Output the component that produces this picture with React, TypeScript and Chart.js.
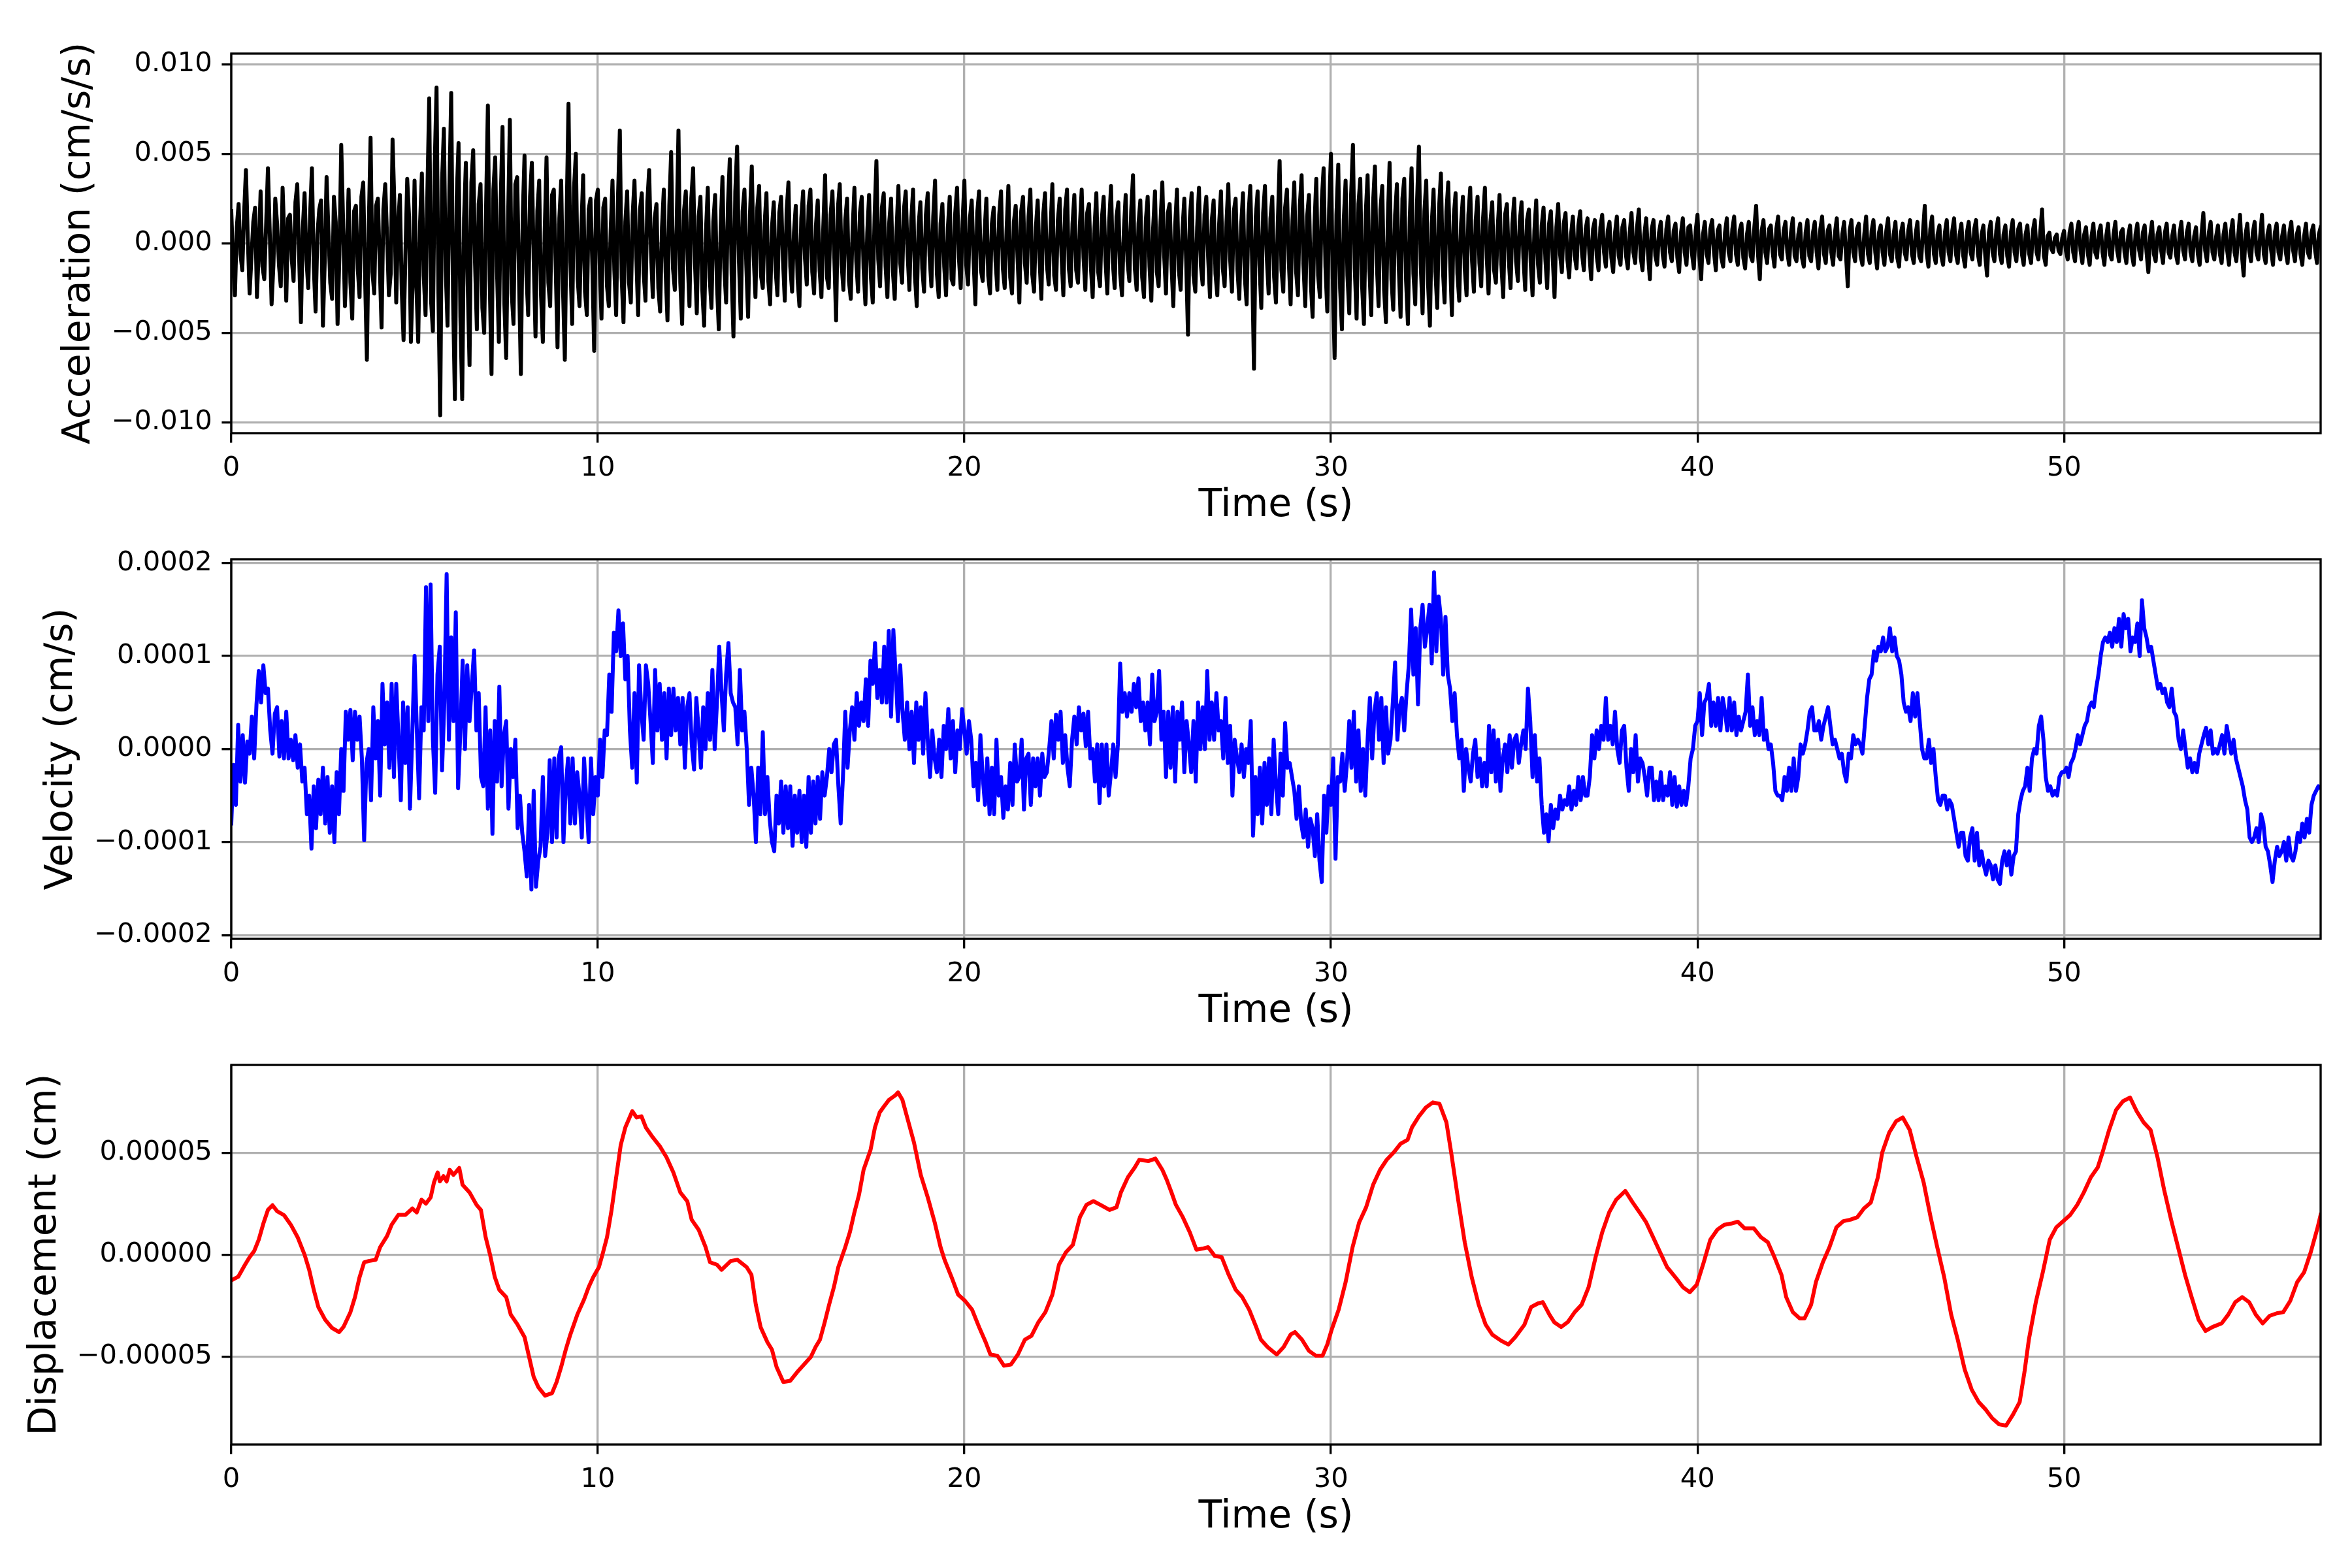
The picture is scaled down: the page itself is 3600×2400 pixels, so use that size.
import React, { useEffect, useRef } from "react";
import { Chart, registerables } from "chart.js";

Chart.register(...registerables);

// ---------------- data ----------------
// Acceleration, sampled every ACC_DT seconds, values in 1e-3 cm/s/s (one row per second)
const ACC_DT = 0.05;
const ACC_UNIT = 1e-3;
const ACC_E3 = [
  1.8,-1.1,-2.9,0.9,2.2,-0.6,-1.5,1.7,4.1,0.3,-2.8,-0.8,1.2,2.0,-3.0,-0.4,2.9,-1.3,-2.0,1.0,
  4.2,0.6,-3.4,-1.2,2.5,1.1,-1.2,-2.4,3.1,0.2,-3.2,1.4,1.6,-0.9,-2.1,2.3,3.3,-0.7,-4.4,0.8,
  2.8,-0.9,-2.5,1.6,4.2,-1.3,-3.8,0.5,1.9,2.4,-4.6,-1.0,3.7,0.7,-2.2,-3.1,2.6,1.2,-4.5,-0.6,
  5.5,1.3,-3.5,-0.8,3.0,-2.2,-4.2,1.8,2.1,-1.4,-3.0,2.6,3.4,-1.9,-6.5,0.9,5.9,-1.6,-2.8,2.1,
  2.5,-1.2,-4.7,1.9,3.3,0.4,-2.9,-1.7,5.8,2.2,-3.3,1.0,2.7,-2.6,-5.4,-0.7,3.6,1.5,-5.5,-2.0,
  3.5,-2.4,-5.5,1.1,3.9,-1.8,-4.0,2.9,8.1,-3.2,-4.9,4.4,8.7,-2.7,-9.6,3.5,6.4,-1.5,-4.6,3.1,
  8.4,-3.0,-8.7,2.6,5.6,-4.1,-8.7,1.4,4.5,-2.3,-6.8,3.4,5.2,-1.1,-4.8,2.2,3.3,-3.6,-5.0,1.9,
  7.7,-2.1,-7.3,3.0,4.8,-1.6,-5.5,2.4,6.5,-3.4,-6.4,1.2,6.9,-2.8,-4.5,3.3,3.7,-2.0,-7.3,1.5,
  4.9,-1.7,-4.0,2.6,4.5,-0.9,-5.2,1.8,3.5,-2.9,-5.5,0.6,4.8,-2.2,-3.5,2.7,3.0,-1.3,-5.8,1.4,
  3.5,-2.6,-6.5,1.7,7.8,-1.0,-4.5,3.1,5.0,-2.0,-3.5,0.8,3.8,-2.7,-4.0,1.9,2.5,-1.2,-6.0,2.4,
  3.0,-1.1,-4.2,2.0,2.5,-2.4,-3.5,0.7,3.5,-1.5,-4.0,2.6,6.3,-1.9,-4.4,1.2,2.9,-2.2,-3.3,1.6,
  3.5,-0.8,-4.0,1.9,2.8,-1.7,-3.2,2.3,4.1,-0.5,-3.0,1.4,2.2,-2.5,-3.8,0.9,3.0,-1.6,-4.3,2.1,
  5.1,-1.4,-2.6,1.0,6.3,-2.2,-4.5,1.8,2.9,-0.9,-3.5,2.5,4.2,-1.1,-3.9,1.5,2.6,-2.6,-4.6,0.7,
  3.1,-1.9,-3.6,1.2,2.7,-2.3,-4.8,0.8,3.7,-1.4,-3.3,2.2,4.7,-1.7,-5.2,2.9,5.4,-1.0,-4.2,1.8,
  3.0,-1.2,-4.1,1.6,4.3,-0.7,-3.0,2.0,3.2,-1.8,-2.5,1.1,2.8,-2.1,-3.4,0.9,2.3,-1.5,-2.9,1.7,
  2.6,-0.9,-3.2,1.8,3.4,-1.3,-2.7,0.6,2.1,-2.0,-3.5,1.4,2.9,-0.8,-2.3,2.1,3.0,-1.6,-2.8,1.0,
  2.4,-1.5,-3.0,0.9,3.8,-1.9,-2.5,1.6,2.9,-0.7,-4.3,2.0,3.3,-1.2,-2.6,1.3,2.5,-2.1,-3.1,0.8,
  3.1,-1.0,-2.7,1.7,2.6,-1.4,-3.4,0.6,2.7,-1.9,-3.3,1.5,4.6,-0.9,-2.4,2.0,2.8,-1.3,-3.0,1.2,
  2.5,-1.6,-3.1,0.8,3.2,-1.1,-2.2,1.9,2.9,-0.6,-2.6,1.3,3.0,-1.8,-3.5,1.0,2.3,-1.4,-2.7,1.6,
  2.8,-0.7,-2.4,1.5,3.5,-1.7,-3.0,1.1,2.2,-1.3,-2.9,0.9,2.6,-2.0,-2.3,1.7,3.1,-0.8,-2.5,1.2,
  3.5,-1.2,-2.3,1.4,2.4,-0.9,-3.4,1.7,2.9,-1.5,-2.1,0.6,2.5,-1.8,-2.8,1.1,2.0,-1.0,-2.6,1.6,
  2.9,-1.4,-2.5,0.7,3.2,-1.9,-2.8,1.2,2.1,-0.8,-3.3,1.8,2.6,-1.1,-2.2,1.5,3.0,-1.7,-2.7,0.9,
  2.4,-0.9,-3.1,1.6,2.8,-1.2,-2.3,0.8,3.3,-1.8,-2.6,1.3,2.5,-0.7,-2.9,1.9,3.0,-1.4,-2.4,1.1,
  2.7,-1.5,-2.2,1.0,3.0,-0.8,-2.6,1.7,2.2,-1.3,-3.0,0.9,2.8,-1.6,-2.4,1.4,2.6,-1.0,-2.8,1.2,
  3.2,-1.1,-2.5,1.5,2.3,-1.7,-2.9,0.7,2.7,-1.0,-2.1,1.8,3.8,-1.4,-2.6,1.1,2.4,-1.9,-3.0,1.3,
  2.6,-1.3,-3.2,0.9,2.9,-1.6,-2.4,1.2,3.4,-0.7,-2.8,1.7,2.2,-1.2,-3.5,1.0,3.0,-1.5,-2.6,0.8,
  2.5,-1.0,-5.1,1.4,2.8,-1.8,-2.7,0.9,3.1,-1.2,-2.3,1.6,2.6,-0.8,-3.0,1.3,2.4,-1.7,-2.9,1.1,
  2.9,-1.4,-2.4,1.2,3.3,-0.9,-2.7,1.8,2.5,-1.5,-3.1,1.0,2.8,-1.9,-3.4,1.6,3.2,-1.1,-7.0,1.5,
  2.9,-1.2,-3.6,1.7,3.2,-0.8,-2.8,1.4,2.6,-1.9,-3.3,1.1,4.6,-1.5,-2.7,2.0,3.0,-1.0,-3.4,1.3,
  3.4,-1.6,-2.9,2.1,3.8,-1.2,-3.5,1.5,2.7,-2.2,-4.1,1.0,3.6,-1.8,-3.0,2.4,4.2,-1.3,-3.8,1.9,
  5.0,-2.0,-6.4,1.6,4.4,-2.5,-4.8,1.3,3.5,-1.8,-3.9,2.7,5.5,-1.4,-4.2,2.2,3.6,-2.4,-4.5,1.7,
  3.8,-1.5,-4.0,2.3,4.3,-1.1,-3.5,1.9,3.2,-2.6,-4.4,1.2,4.5,-2.0,-3.7,1.6,3.3,-1.3,-4.1,2.5,
  3.6,-2.1,-4.5,1.4,4.2,-1.7,-3.4,2.4,5.4,-1.2,-3.9,1.8,3.5,-2.3,-4.6,1.1,3.0,-1.6,-3.6,2.0,
  3.9,-1.3,-3.3,1.8,3.4,-0.9,-4.0,1.5,2.8,-1.7,-3.2,1.1,2.6,-1.4,-2.9,1.6,3.1,-1.0,-2.7,1.3,
  2.6,-1.1,-2.4,1.4,3.1,-0.8,-2.8,1.2,2.3,-1.5,-2.2,0.9,2.7,-1.2,-3.0,1.6,2.2,-0.9,-2.5,1.1,
  2.5,-1.0,-2.1,1.2,2.3,-0.8,-2.6,1.3,1.9,-1.1,-2.9,0.7,2.4,-1.2,-2.2,1.0,2.0,-0.9,-2.5,1.1,
  1.8,-0.8,-3.0,0.9,2.2,-0.6,-1.6,1.1,1.7,-0.9,-1.9,0.5,1.5,-0.7,-1.4,1.0,1.8,-0.6,-1.5,0.8,
  1.4,-0.6,-2.0,0.8,1.3,-0.7,-1.5,0.9,1.6,-0.5,-1.3,0.7,1.2,-0.8,-1.6,0.6,1.5,-0.7,-1.2,0.9,
  1.3,-0.7,-1.4,0.6,1.7,-0.5,-1.1,0.9,1.9,-0.8,-1.5,0.5,1.4,-0.6,-2.0,0.8,1.3,-0.7,-1.2,0.6,
  1.2,-0.6,-1.3,0.8,1.5,-0.5,-1.0,0.7,1.1,-0.8,-1.6,0.6,1.4,-0.5,-1.2,0.9,1.0,-0.6,-1.4,0.7,
  1.6,-0.7,-2.0,0.5,1.2,-0.6,-1.1,0.8,1.3,-0.5,-1.5,0.7,1.0,-0.8,-1.3,0.6,1.4,-0.5,-1.0,0.8,
  1.5,-0.6,-1.2,0.7,1.1,-0.8,-1.4,0.5,1.2,-0.7,-1.0,0.9,2.1,-0.6,-2.0,0.7,1.3,-0.5,-1.1,0.8,
  1.0,-0.5,-1.3,0.8,1.5,-0.6,-0.9,0.7,1.2,-0.5,-1.2,0.6,1.4,-0.7,-1.0,0.5,1.1,-0.8,-1.3,0.6,
  1.3,-0.7,-1.0,0.6,1.2,-0.5,-1.4,0.8,1.5,-0.6,-1.1,0.7,1.0,-0.5,-1.2,0.6,1.4,-0.7,-0.9,0.5,
  1.2,-0.6,-2.4,0.7,1.3,-0.5,-1.0,0.8,1.1,-0.7,-1.2,0.5,1.5,-0.6,-1.1,0.7,1.3,-0.5,-1.4,0.6,
  1.0,-0.5,-1.2,0.7,1.4,-0.6,-1.0,0.5,1.2,-0.8,-1.3,0.6,1.1,-0.5,-0.9,0.7,1.3,-0.6,-1.1,0.5,
  1.2,-0.7,-1.0,0.6,2.1,-0.5,-1.3,0.8,1.5,-0.6,-1.1,0.5,1.0,-0.7,-1.2,0.6,1.3,-0.5,-1.0,0.7,
  1.4,-0.6,-1.1,0.5,1.1,-0.7,-1.3,0.6,1.2,-0.5,-0.9,0.8,1.3,-0.6,-1.2,0.5,1.0,-0.7,-1.8,0.6,
  1.2,-0.5,-1.0,0.7,1.4,-0.6,-1.1,0.5,1.0,-0.7,-1.3,0.6,1.3,-0.5,-1.0,0.8,1.1,-0.6,-1.2,0.5,
  1.0,-0.6,-1.1,0.7,1.3,-0.5,-0.9,0.6,1.9,-0.7,-1.2,0.4,0.6,-0.3,-0.5,0.3,0.5,-0.4,-0.6,0.3,
  0.7,-0.4,-0.9,0.6,1.1,-0.5,-1.0,0.6,1.2,-0.4,-1.1,0.5,0.9,-0.6,-1.2,0.4,1.1,-0.5,-0.8,0.6,
  1.0,-0.5,-1.2,0.4,1.1,-0.6,-0.9,0.5,1.2,-0.4,-1.0,0.6,0.8,-0.5,-1.1,0.4,1.0,-0.6,-1.2,0.5,
  1.1,-0.4,-0.9,0.6,1.0,-0.5,-1.6,0.4,1.2,-0.6,-1.0,0.5,0.9,-0.4,-1.1,0.6,1.1,-0.5,-0.8,0.4,
  1.0,-0.6,-1.1,0.5,1.2,-0.4,-0.9,0.6,1.1,-0.5,-1.0,0.4,0.9,-0.6,-1.2,0.5,1.7,-0.4,-1.0,0.6,
  1.2,-0.5,-0.9,0.4,1.0,-0.6,-1.1,0.5,1.1,-0.4,-1.2,0.6,1.3,-0.5,-1.0,0.4,1.6,-0.6,-1.8,0.5,
  1.1,-0.4,-1.0,0.6,1.2,-0.5,-0.9,0.4,1.6,-0.6,-1.1,0.5,1.0,-0.4,-1.2,0.6,1.1,-0.5,-0.9,0.4,
  1.0,-0.5,-1.1,0.6,1.2,-0.4,-1.0,0.5,0.9,-0.6,-1.2,0.4,1.1,-0.5,-0.8,0.6,1.0,-0.4,-1.1,0.5,
  0.9,
];

// Velocity, sampled every VEL_DT seconds, values in 1e-5 cm/s
const VEL_DT = 0.0625;
const VEL_UNIT = 1e-5;
const VEL_E5 = [
  -8.0,-1.7,-6.0,2.6, -3.5,1.5,-3.6,0.8, -0.5,3.5,-1.0,4.8, 8.4,5.0,9.0,6.0,
  6.5,2.0,-0.5,3.8, 4.5,-0.8,3.0,-1.0, 4.0,-1.0,1.0,-1.2, 1.5,-2.0,0.5,-3.5,
  -2.0,-7.0,-5.0,-10.7, -4.0,-8.5,-3.3,-7.0, -2.0,-8.0,-3.0,-9.0, -4.0,-10.0,-2.5,-7.0,
  0,-4.5,4.0,1.0, 4.2,-1.2,4.0,1.0, 3.5,-1.0,-9.8,-1.5, 0,-5.5,4.5,-1.0,
  3.0,-5.0,7.0,0.5, 5.0,-2.0,7.0,-3.0, 7.0,1.0,-5.5,5.0, -1.5,4.5,-6.4,1.5,
  10.0,2.0,-5.3,4.5, 2.0,17.4,3.0,17.7, 1.0,-4.7,8.0,11.0, -2.3,5.0,18.8,1.0,
  12.0,3.0,14.7,-4.2, 2.0,9.5,0,9.0, 3.0,7.0,10.6,2.0, 6.0,-3.0,-4.0,4.5,
  -6.4,2.0,-9.1,3.0, -3.5,6.7,-4.0,1.5, 3.0,-6.4,0,-3.0, 1.0,-8.5,-5.0,-9.0,
  -11.0,-13.7,-6.0,-15.1, -4.5,-14.8,-12.0,-10.5, -3.0,-11.5,-9.0,-1.2, -10.0,-1.0,-9.5,-0.8,
  0.2,-10.0,-4.0,-1.0, -8.0,-1.0,-8.0,-2.5, -5.0,-9.5,-1.0,-5.5, -10.0,-1.0,-7.0,-3.0,
  -5.0,1.0,-3.0,2.0, 1.5,8.0,4.0,12.5, 10.5,14.9,10.0,13.5, 7.5,10.0,2.0,-2.0,
  6.0,-3.6,9.0,4.0, 1.0,9.0,7.0,3.0, -1.5,8.5,2.0,7.0, 1.0,6.0,-1.0,6.5,
  1.5,6.5,2.0,5.5, 0.5,5.5,-2.0,4.5, 6.0,0.5,-2.2,5.5, 2.0,-2.0,4.5,0,
  6.0,1.0,8.5,0, 5.0,11.0,6.0,2.0, 8.0,11.4,6.0,5.0, 4.5,0.5,8.5,2.0,
  4.0,0,-6.0,-2.0, -5.0,-10.0,-2.0,-7.0, 1.8,-7.0,-3.0,-7.5, -10.0,-11.0,-5.0,-8.0,
  -3.5,-9.0,-4.0,-8.5, -4.0,-10.4,-5.0,-9.0, -4.5,-10.0,-5.0,-10.5, -3.0,-9.0,-3.5,-8.0,
  -3.0,-7.5,-2.5,-5.0, -3.0,0,-2.5,0.5, 1.0,-4.0,-8.0,-3.0, 4.0,-2.0,2.0,4.5,
  1.0,6.0,2.5,5.0, 3.0,7.5,2.5,9.5, 7.0,11.4,5.5,8.5, 5.0,11.0,5.0,12.7,
  3.5,12.8,8.0,3.0, 9.0,4.0,1.0,5.0, 0,4.0,-1.5,5.0, 1.0,4.5,-0.5,6.0,
  1.0,-3.0,2.0,-1.0,
  -2.5,1.0,-3.0,2.5, 0,4.3,-1.0,3.0, -2.5,2.0,0,4.3, 2.0,-0.5,3.0,1.0,
  -4.0,-1.5,-5.5,1.5, -3.0,-6.0,-1.0,-7.0, -2.0,-7.0,1.0,-5.0, -3.0,-7.4,-4.0,-6.5,
  -1.5,-6.0,0.5,-3.5, -3.0,1.0,-6.5,-1.0, -0.5,-6.0,-1.0,-4.0, -1.0,-5.0,-0.5,-3.0,
  -2.5,0,3.0,-1.0, 3.7,1.0,4.0,-1.5, 1.5,-2.0,-4.0,1.0, 3.5,0.5,4.5,2.0,
  3.8,0.3,4.0,-1.0, 0,-3.5,0.5,-5.8, 0.5,-4.0,0.5,-5.0, -2.5,0.5,-3.0,0.5,
  9.2,4.0,6.0,3.5, 6.0,4.0,7.0,4.5, 7.6,3.0,5.0,2.0, 5.0,0.5,8.0,3.0,
  4.0,8.4,1.0,4.0, -3.0,4.0,-2.0,4.5, -3.5,4.0,1.0,5.0, -2.5,3.0,0.5,-2.5,
  3.0,-3.5,5.0,0, 4.5,0,8.4,1.0, 5.0,1.0,6.0,2.0, 3.0,-1.0,5.5,-1.5,
  2.5,-5.0,1.0,-1.0, -2.5,0.5,-3.0,0, -1.5,3.0,-9.3,-3.0, -7.0,-2.0,-8.0,-1.5,
  -6.0,-1.0,-7.0,1.0, -4.0,-7.0,-0.5,-5.0, 2.8,-2.0,-1.5,-3.0, -4.5,-7.5,-4.0,-8.0,
  -9.5,-6.5,-10.5,-7.5, -8.5,-11.5,-7.0,-12.0, -14.3,-5.0,-9.0,-4.0, -6.0,-1.0,-11.8,-3.0,
  -3.5,-0.5,-4.5,-1.5, 3.0,-2.0,4.0,-3.5, 2.0,-4.5,0,-5.0, 1.0,5.5,-1.0,4.0,
  6.0,1.0,5.5,-1.5, 4.5,-0.5,1.0,5.0, 9.3,1.0,4.5,5.5, 2.0,6.0,9.0,15.0,
  8.0,13.0,4.8,13.0, 15.5,11.0,13.0,15.5, 9.2,19.0,10.5,16.4, 14.0,8.0,14.2,8.0,
  6.5,3.0,6.0,1.5, -1.0,1.0,-4.5,0, -2.0,-3.5,-0.5,1.0, -3.0,-1.0,-4.0,-1.5,
  -4.0,2.5,-2.5,2.0, -3.5,1.0,-4.5,-1.0, 0.5,-2.5,1.5,-2.0, 1.0,1.5,-1.5,0.5,
  2.0,0,6.5,3.0, -3.0,1.5,-3.5,-1.0, -6.0,-9.0,-7.0,-9.9, -6.0,-8.5,-6.5,-7.5,
  -5.0,-6.5,-5.5,-6.0, -4.0,-6.5,-4.5,-6.0, -3.0,-5.5,-3.0,-5.0, -5.0,-3.0,1.5,-1.0,
  2.0,0,2.5,1.0, 5.5,1.0,2.5,0.5, 4.0,0,-1.5,2.0, 2.5,-2.0,-4.5,0,
  -2.5,1.5,-3.5,-1.0, -1.5,-3.0,-5.0,-2.0, -2.0,-5.5,-3.5,-5.5, -2.5,-5.5,-4.0,-5.0,
  -2.5,-6.0,-3.0,-6.2, -4.0,-6.0,-4.5,-6.0, -4.0,-1.0,0,2.5, 3.0,6.0,1.5,5.0,
  5.5,7.0,2.5,5.0, 2.5,5.5,2.0,5.5, 4.0,2.0,5.5,2.0, 5.0,1.5,3.5,2.0,
  3.0,4.0,8.0,2.5, 4.5,1.5,3.0,1.5, 5.5,1.0,2.0,0, 0.5,-1.5,-4.5,-5.0,
  -5.0,-5.5,-3.0,-4.5, -2.0,-4.5,-1.0,-4.5, -3.0,0.5,-0.5,0.5, 2.0,4.0,4.5,2.0,
  2.0,3.0,1.0,2.5, 3.5,4.5,2.5,0.5, 1.0,0,-1.0,-0.5, -2.5,-3.5,-0.5,-1.0,
  1.5,0.5,1.0,0.5, -0.5,2.5,5.5,7.5, 8.0,10.5,9.5,11.0, 10.5,12.0,10.5,11.0,
  13.0,10.5,12.0,10.0, 9.5,8.0,5.0,4.0, 4.5,3.0,6.0,3.5, 6.0,3.0,0,-1.0,
  -1.0,1.0,-1.5,0, -3.0,-5.5,-6.0,-5.0, -5.0,-6.5,-5.5,-6.0, -7.5,-9.0,-10.5,-9.0,
  -9.0,-11.5,-12.0,-9.5, -8.5,-12.0,-9.0,-12.5, -11.0,-12.5,-13.5,-12.0, -12.5,-14.0,-12.5,-14.0,
  -14.5,-12.0,-11.0,-12.5, -11.0,-13.5,-11.5,-11.0, -7.0,-5.5,-4.5,-4.0, -2.0,-4.5,-1.0,0,
  -0.5,2.5,3.5,1.0, -3.0,-4.5,-4.0,-5.0, -4.5,-5.0,-3.0,-2.5, -2.5,-2.0,-3.0,-1.5,
  -1.0,0,1.5,0.5, 1.5,2.5,3.0,4.5, 5.0,4.5,6.5,8.0, 10.0,11.5,12.0,11.5,
  12.5,11.0,13.0,11.5, 14.0,11.0,14.5,13.0, 14.0,10.5,12.0,11.5, 13.5,10.0,16.0,13.0,
  12.0,10.5,11.0,9.5, 8.0,6.5,7.0,6.0, 6.5,5.0,4.5,6.5, 4.0,3.5,1.0,0,
  2.0,0,-2.0,-1.0, -2.5,-1.5,-2.5,-0.5, 0.5,1.5,2.3,0.5, 2.0,-0.5,0,-0.5,
  0.5,1.5,-0.5,2.5, 1.0,-0.5,1.0,-1.0, -2.0,-3.0,-4.0,-5.5, -6.5,-9.5,-10.0,-9.5,
  -8.5,-10.0,-7.0,-8.0, -10.5,-11.0,-12.5,-14.3, -12.0,-10.5,-11.5,-11.0, -10.0,-12.0,-9.5,-11.5,
  -12.0,-11.0,-9.0,-10.0, -8.0,-9.5,-7.5,-9.0,
  -6.0,-5.0,-4.5,-4.0,-4.2,
];

// Displacement: time (s) and values in 1e-5 cm
const DISP_UNIT = 1e-5;
const DISP_TIME = [
  0,0.03,0.19,0.375,0.5,0.625,0.75,0.875,1.0,1.125,1.25,1.44,1.625,1.81,2.0,2.125,2.25,2.375,2.56,2.75,2.94,
  3.06,3.25,3.375,3.5,3.625,3.75,3.94,4.06,4.25,4.375,4.56,4.75,4.94,5.06,5.19,5.31,5.44,5.53,5.63,5.69,5.79,
  5.875,5.96,6.06,6.22,6.31,6.5,6.69,6.81,6.94,7.06,7.19,7.31,7.5,7.625,7.81,8.0,8.125,8.25,8.375,8.56,8.75,
  8.875,9.0,9.125,9.25,9.44,9.625,9.75,9.875,10.03,10.125,10.25,10.375,10.5,10.625,10.75,10.94,11.06,11.19,
  11.31,11.5,11.69,11.875,12.06,12.25,12.44,12.56,12.75,12.94,13.06,13.25,13.375,13.625,13.81,14.06,14.19,
  14.31,14.44,14.625,14.75,14.875,15.06,15.25,15.44,15.625,15.81,15.94,16.06,16.19,16.31,16.44,16.56,16.75,
  16.875,17.0,17.125,17.25,17.44,17.56,17.69,17.81,17.94,18.125,18.19,18.31,18.44,18.625,18.81,19.0,19.19,
  19.35,19.46,19.65,19.83,20.02,20.21,20.4,20.58,20.71,20.9,21.08,21.27,21.46,21.65,21.83,22.02,22.21,22.4,
  22.58,22.77,22.96,23.15,23.33,23.52,23.71,23.96,24.15,24.27,24.46,24.65,24.77,25.02,25.21,25.4,25.52,25.65,
  25.77,25.96,26.15,26.33,26.52,26.65,26.83,27.02,27.21,27.4,27.58,27.77,27.96,28.09,28.27,28.52,28.71,28.9,
  29.02,29.21,29.4,29.59,29.77,29.9,30.02,30.21,30.4,30.59,30.77,30.96,31.15,31.34,31.52,31.71,31.9,32.09,
  32.21,32.4,32.59,32.78,32.96,33.15,33.28,33.46,33.65,33.84,34.03,34.22,34.4,34.65,34.84,35.03,35.28,35.46,
  35.65,35.78,35.96,36.09,36.28,36.46,36.65,36.84,37.03,37.22,37.4,37.59,37.78,38.03,38.23,38.42,38.6,38.79,
  38.98,39.17,39.42,39.6,39.79,39.98,40.17,40.35,40.54,40.73,40.92,41.1,41.29,41.54,41.73,41.92,42.1,42.29,
  42.42,42.6,42.79,42.92,43.1,43.23,43.42,43.6,43.79,43.98,44.17,44.36,44.54,44.73,44.92,45.04,45.23,45.42,
  45.6,45.79,45.98,46.17,46.36,46.54,46.73,46.92,47.1,47.29,47.48,47.67,47.86,48.04,48.23,48.42,48.61,48.79,
  48.92,49.04,49.23,49.42,49.61,49.79,49.98,50.17,50.36,50.54,50.73,50.92,51.05,51.23,51.42,51.61,51.8,51.98,
  52.17,52.36,52.55,52.73,52.92,53.11,53.3,53.48,53.67,53.86,54.05,54.3,54.48,54.67,54.86,55.05,55.23,55.42,
  55.61,55.8,55.98,56.17,56.36,56.55,56.73,56.92,57.0,
];
const DISP_E5 = [
  -1.25,-1.23,-1.08,-0.49,-0.12,0.18,0.74,1.53,2.2,2.43,2.14,1.94,1.47,0.86,0,-0.74,-1.72,-2.57,-3.19,-3.6,-3.8,
  -3.55,-2.82,-2.08,-1.1,-0.37,-0.31,-0.25,0.37,0.92,1.47,1.96,1.96,2.27,2.08,2.7,2.51,2.82,3.55,4.04,3.6,3.86,
  3.6,4.17,3.92,4.26,3.43,3.06,2.45,2.2,0.86,0,-1.1,-1.72,-2.08,-2.94,-3.43,-4.04,-5.02,-6.0,-6.5,-6.92,-6.8,
  -6.25,-5.51,-4.66,-3.92,-2.94,-2.2,-1.59,-1.1,-0.61,0,0.86,2.2,3.8,5.39,6.25,7.05,6.74,6.8,
  6.25,5.76,5.33,4.78,4.04,3.06,2.63,1.72,1.23,0.37,-0.37,-0.49,-0.74,-0.31,-0.25,-0.61,-0.98,
  -2.45,-3.55,-4.29,-4.66,-5.51,-6.25,-6.19,-5.76,-5.39,-5.02,-4.53,-4.17,-3.31,-2.45,-1.59,-0.61,0.37,
  1.1,2.08,2.94,4.17,5.15,6.25,6.99,7.29,7.6,7.84,7.97,7.6,6.74,5.51,3.92,2.82,1.59,
  0.37,-0.25,-1.1,-1.96,-2.27,-2.7,-3.55,-4.29,-4.9,-4.96,-5.45,-5.39,-4.9,-4.17,-3.98,-3.31,-2.82,-1.96,
  -0.49,0.12,0.49,1.84,2.45,2.63,2.45,2.2,2.33,3.06,3.8,4.29,4.66,4.6,4.72,4.17,3.68,3.06,
  2.45,1.84,1.1,0.25,0.31,0.37,-0.06,-0.12,-0.98,-1.72,-2.08,-2.7,-3.55,-4.17,-4.53,-4.9,-4.53,-3.92,
  -3.8,-4.17,-4.72,-4.96,-4.96,-4.41,-3.68,-2.7,-1.35,0.37,1.59,2.33,3.43,4.17,4.66,5.02,5.45,5.64,
  6.25,6.8,7.23,7.48,7.41,6.5,5.02,2.82,0.61,-1.1,-2.45,-3.43,-3.92,-4.23,-4.41,-4.04,-3.43,-2.57,
  -2.39,-2.33,-2.94,-3.31,-3.55,-3.31,-2.82,-2.45,-1.59,-0.12,1.1,2.08,2.7,3.13,2.57,2.08,1.59,0.86,
  0.12,-0.61,-1.16,-1.59,-1.84,-1.47,-0.37,0.74,1.23,1.47,1.53,1.62,1.29,1.29,0.86,0.61,-0.12,-0.98,
  -2.08,-2.82,-3.13,-3.13,-2.45,-1.35,-0.37,0.37,1.35,1.65,1.72,1.84,2.27,2.57,3.8,5.02,6.0,6.56,
  6.74,6.13,4.78,3.55,1.84,0.37,-1.1,-2.94,-4.17,-5.64,-6.62,-7.23,-7.6,-8.03,-8.33,-8.39,-7.84,-7.23,
  -5.76,-4.17,-2.33,-0.86,0.74,1.35,1.65,1.96,2.45,3.06,3.8,4.29,5.02,6.13,7.11,7.54,7.72,7.05,
  6.5,6.13,4.78,3.19,1.72,0.37,-0.98,-2.08,-3.19,-3.74,-3.55,-3.37,-2.94,-2.33,-2.08,-2.33,-2.94,-3.37,
  -3.0,-2.88,-2.82,-2.27,-1.35,-0.86,0.12,1.35,1.96,
];

// Axis ticks and limits
const TIME_TICKS = [0, 10, 20, 30, 40, 50];
const TIME_MAX = 57;
const ACC_TICKS = [-0.01, -0.005, 0, 0.005, 0.01];
const VEL_TICKS = [-0.0002, -0.0001, 0, 0.0001, 0.0002];
const DISP_TICKS = [-0.00005, 0, 0.00005];
const ACC_LIM = 0.0106;
const VEL_LIM = 0.000204;
const DISP_LIM = 0.0000932;

// ---------------- chart ----------------
const FONT = "'DejaVu Sans', 'Liberation Sans', sans-serif";
const TICK_SIZE = 41.67;
const TITLE_SIZE = 58.33;
const LW = 3.33;

const framePlugin = {
  id: "frame",
  afterDraw(chart: any) {
    const { ctx, chartArea } = chart;
    ctx.save();
    ctx.strokeStyle = "#000";
    ctx.lineWidth = LW;
    ctx.strokeRect(chartArea.left, chartArea.top, chartArea.right - chartArea.left, chartArea.bottom - chartArea.top);
    ctx.restore();
  },
};

type PanelProps = {
  points: { x: number; y: number }[];
  color: string;
  yLabel: string;
  yLim: number;
  yTicks: number[];
  decimals: number;
  yTitlePad: number;
  top: number;
};

function Panel({ points, color, yLabel, yLim, yTicks, decimals, yTitlePad, top }: PanelProps) {
  const ref = useRef<HTMLCanvasElement | null>(null);
  useEffect(() => {
    if (!ref.current) return;
    const gridCommon = {
      color: "#b0b0b0",
      lineWidth: LW,
      drawTicks: true,
      tickLength: 14.6,
      tickColor: "#000",
      tickWidth: LW,
    };
    const chart = new Chart(ref.current, {
      type: "line",
      data: {
        datasets: [
          {
            data: points,
            borderColor: color,
            borderWidth: 6,
            pointRadius: 0,
            fill: false,
            tension: 0,
            clip: 0,
            borderJoinStyle: "round",
            borderCapStyle: "square",
          } as any,
        ],
      },
      options: {
        animation: false,
        responsive: false,
        devicePixelRatio: 1,
        parsing: false,
        normalized: true,
        events: [],
        layout: { padding: { left: 0, right: 48, top: 82, bottom: 0 } },
        plugins: { legend: { display: false }, tooltip: { enabled: false } },
        scales: {
          x: {
            type: "linear",
            min: 0,
            max: TIME_MAX,
            afterBuildTicks: (s: any) => {
              s.ticks = TIME_TICKS.map((v) => ({ value: v }));
            },
            afterFit: (s: any) => {
              s.height = 177;
            },
            grid: gridCommon,
            border: { display: false },
            ticks: {
              padding: 14.6,
              color: "#000",
              font: { family: FONT, size: TICK_SIZE },
              maxRotation: 0,
              autoSkip: false,
              callback: (v: any) => String(v),
            },
            title: {
              display: true,
              text: "Time (s)",
              color: "#000",
              font: { family: FONT, size: TITLE_SIZE },
              padding: { top: 0, bottom: 30 },
            },
          },
          y: {
            type: "linear",
            min: -yLim,
            max: yLim,
            afterBuildTicks: (s: any) => {
              s.ticks = yTicks.map((v) => ({ value: v }));
            },
            afterFit: (s: any) => {
              s.width = 354;
            },
            grid: gridCommon,
            border: { display: false },
            ticks: {
              padding: 14.6,
              color: "#000",
              font: { family: FONT, size: TICK_SIZE },
              autoSkip: false,
              callback: (v: any) => {
                const n = Number(v);
                const s = (Math.abs(n) < 1e-12 ? 0 : n).toFixed(decimals);
                return s.replace("-", "\u2212");
              },
            },
            title: {
              display: true,
              text: yLabel,
              color: "#000",
              font: { family: FONT, size: TITLE_SIZE },
              padding: { top: yTitlePad, bottom: 0 },
            },
          },
        },
      } as any,
      plugins: [framePlugin],
    });
    return () => chart.destroy();
  }, []);
  return (
    <canvas
      ref={ref}
      width={3600}
      height={840}
      style={{ position: "absolute", left: 0, top, width: 3600, height: 840 }}
    />
  );
}

export default function App() {
  const accPoints = ACC_E3.map((v, i) => ({ x: i * ACC_DT, y: v * ACC_UNIT }));
  const velPoints = VEL_E5.map((v, i) => ({ x: i * VEL_DT, y: v * VEL_UNIT }));
  const dispPoints = DISP_TIME.map((t, i) => ({ x: t, y: DISP_E5[i] * DISP_UNIT }));
  return (
    <div style={{ position: "absolute", left: 0, top: 0, width: 3600, height: 2400, background: "#fff", overflow: "hidden" }}>
      <Panel points={accPoints} color="#000000" yLabel="Acceleration (cm/s/s)" yLim={ACC_LIM} yTicks={ACC_TICKS} decimals={3} yTitlePad={87} top={0} />
      <Panel points={velPoints} color="#0000ff" yLabel="Velocity (cm/s)" yLim={VEL_LIM} yTicks={VEL_TICKS} decimals={4} yTitlePad={60} top={774} />
      <Panel points={dispPoints} color="#ff0000" yLabel="Displacement (cm)" yLim={DISP_LIM} yTicks={DISP_TICKS} decimals={5} yTitlePad={35} top={1548} />
    </div>
  );
}
